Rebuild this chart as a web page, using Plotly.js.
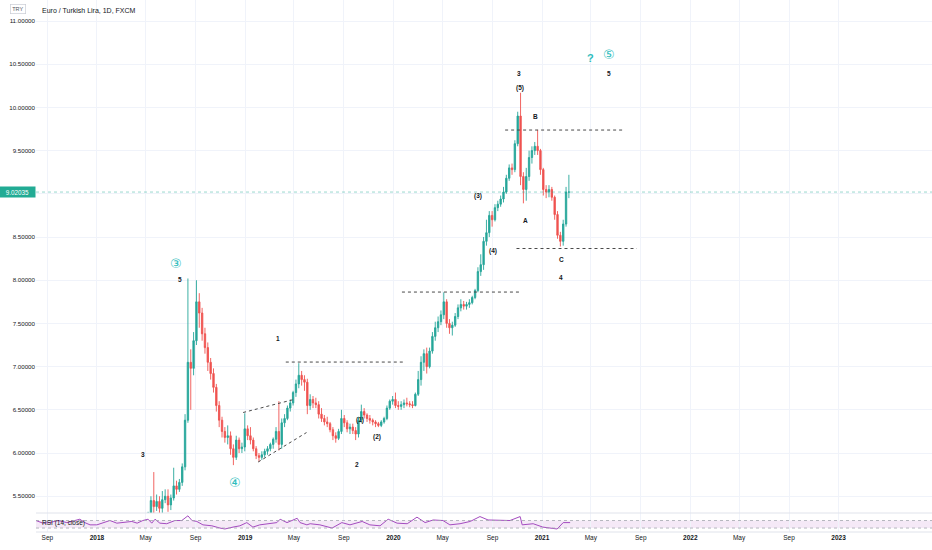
<!DOCTYPE html>
<html><head><meta charset="utf-8">
<script src="https://cdn.plot.ly/plotly-3.0.1.min.js"></script>
<style>html,body{margin:0;padding:0;background:#fff;overflow:hidden}#chart{width:932px;height:550px}</style>
</head><body><div id="chart"></div>
<script>
// ---- Data (weekly OHLC) ----
const weeks = [
'2018-05-07','2018-05-14','2018-05-21','2018-05-28','2018-06-04','2018-06-11','2018-06-18','2018-06-25','2018-07-02','2018-07-09','2018-07-16','2018-07-23','2018-07-30','2018-08-06','2018-08-13','2018-08-20','2018-08-27','2018-09-03','2018-09-10','2018-09-17','2018-09-24','2018-10-01','2018-10-08','2018-10-15','2018-10-22','2018-10-29','2018-11-05','2018-11-12','2018-11-19','2018-11-26','2018-12-03','2018-12-10','2018-12-17','2018-12-24','2018-12-31',
'2019-01-07','2019-01-14','2019-01-21','2019-01-28','2019-02-04','2019-02-11','2019-02-18','2019-02-25','2019-03-04','2019-03-11','2019-03-18','2019-03-25','2019-04-01','2019-04-08','2019-04-15','2019-04-22','2019-04-29','2019-05-06','2019-05-13','2019-05-20','2019-05-27','2019-06-03','2019-06-10','2019-06-17','2019-06-24','2019-07-01','2019-07-08','2019-07-15','2019-07-22','2019-07-29','2019-08-05','2019-08-12','2019-08-19','2019-08-26','2019-09-02','2019-09-09','2019-09-16','2019-09-23','2019-09-30','2019-10-07','2019-10-14','2019-10-21','2019-10-28','2019-11-04','2019-11-11','2019-11-18','2019-11-25','2019-12-02','2019-12-09','2019-12-16','2019-12-23','2019-12-30',
'2020-01-06','2020-01-13','2020-01-20','2020-01-27','2020-02-03','2020-02-10','2020-02-17','2020-02-24','2020-03-02','2020-03-09','2020-03-16','2020-03-23','2020-03-30','2020-04-06','2020-04-13','2020-04-20','2020-04-27','2020-05-04','2020-05-11','2020-05-18','2020-05-25','2020-06-01','2020-06-08','2020-06-15','2020-06-22','2020-06-29','2020-07-06','2020-07-13','2020-07-20','2020-07-27','2020-08-03','2020-08-10','2020-08-17','2020-08-24','2020-08-31','2020-09-07','2020-09-14','2020-09-21','2020-09-28','2020-10-05','2020-10-12','2020-10-19','2020-10-26','2020-11-02','2020-11-09','2020-11-16','2020-11-23','2020-11-30','2020-12-07','2020-12-14','2020-12-21','2020-12-28',
'2021-01-04','2021-01-11','2021-01-18','2021-01-25','2021-02-01','2021-02-08','2021-02-15','2021-02-22','2021-03-01','2021-03-08'
];
const openP = [
5.00,5.28,5.45,5.38,5.44,5.36,5.46,5.50,5.40,5.48,5.62,5.58,5.66,5.84,6.38,7.05,6.98,7.30,7.75,7.62,7.38,7.22,7.05,6.92,6.76,6.55,6.38,6.25,6.18,6.20,6.05,5.95,6.15,6.05,6.07,
6.28,6.20,6.15,6.05,5.97,5.95,5.98,6.02,6.05,6.10,6.16,6.25,6.10,6.35,6.40,6.52,6.58,6.70,6.80,6.90,6.85,6.82,6.55,6.62,6.58,6.56,6.45,6.40,6.36,6.34,6.27,6.20,6.17,6.25,6.40,6.35,6.28,6.30,6.26,6.22,6.38,6.48,6.44,6.40,6.38,6.36,6.34,6.32,6.36,6.40,6.52,6.60,
6.62,6.55,6.54,6.56,6.58,6.57,6.56,6.55,6.68,6.85,7.05,7.15,7.00,7.18,7.35,7.45,7.52,7.60,7.75,7.50,7.45,7.48,7.58,7.68,7.72,7.70,7.72,7.74,7.80,7.88,8.10,8.18,8.45,8.55,8.75,8.70,8.84,8.88,8.94,9.02,9.18,9.30,9.28,9.58,9.90,9.20,9.05,9.20,9.42,9.50,9.55,9.50,
9.28,9.05,9.02,9.05,8.96,8.76,8.52,8.45,8.65,9.02
];
const highP = [
5.32,5.50,5.78,5.52,5.50,5.56,5.58,5.58,5.52,5.83,5.68,5.70,5.88,6.45,8.02,7.20,7.40,8.00,7.85,7.68,7.45,7.28,7.10,6.98,6.80,6.60,6.42,6.30,6.32,6.25,6.10,6.20,6.18,6.12,6.46,
6.32,6.30,6.18,6.08,6.00,6.02,6.05,6.08,6.12,6.18,6.30,6.60,6.40,6.45,6.55,6.62,6.72,6.85,7.04,6.95,6.90,6.86,6.68,6.66,6.64,6.60,6.52,6.44,6.42,6.36,6.30,6.24,6.28,6.50,6.44,6.38,6.34,6.34,6.30,6.42,6.56,6.52,6.46,6.44,6.40,6.38,6.36,6.38,6.42,6.55,6.62,6.66,
6.70,6.60,6.60,6.62,6.64,6.60,6.60,6.70,6.95,7.12,7.20,7.22,7.22,7.40,7.52,7.58,7.65,7.86,7.78,7.55,7.52,7.62,7.72,7.78,7.76,7.75,7.78,7.82,7.90,8.15,8.30,8.50,8.70,8.80,8.80,8.88,8.92,8.98,9.08,9.22,9.34,9.35,9.62,9.95,10.17,9.25,9.30,9.50,9.55,9.60,9.74,9.52,
9.30,9.10,9.10,9.08,8.98,8.80,8.56,8.70,9.08,9.22
];
const lowP = [
4.98,5.27,5.30,5.33,5.24,5.30,5.42,5.32,5.34,5.45,5.52,5.55,5.62,5.80,6.35,6.50,6.90,7.25,7.45,7.30,7.15,6.95,6.85,6.70,6.48,6.30,6.18,6.12,6.10,5.98,5.86,5.92,6.00,6.00,6.02,
6.15,6.10,6.02,5.93,5.90,5.92,5.95,5.98,6.02,6.05,6.12,6.03,6.05,6.30,6.38,6.48,6.55,6.65,6.75,6.78,6.72,6.45,6.50,6.52,6.52,6.40,6.36,6.32,6.30,6.24,6.15,6.12,6.15,6.22,6.30,6.24,6.22,6.22,6.15,6.18,6.35,6.40,6.36,6.34,6.32,6.30,6.30,6.30,6.34,6.38,6.50,6.56,
6.52,6.50,6.50,6.52,6.54,6.53,6.52,6.54,6.66,6.78,6.95,6.92,6.98,7.15,7.30,7.40,7.48,7.55,7.45,7.38,7.36,7.46,7.55,7.64,7.66,7.66,7.68,7.72,7.78,7.86,8.05,8.12,8.40,8.50,8.62,8.68,8.80,8.85,8.90,9.00,9.15,9.22,9.25,9.55,9.10,8.89,8.92,9.15,9.35,9.45,9.45,9.22,
8.98,8.95,8.96,8.92,8.70,8.48,8.39,8.40,8.62,8.95
];
const closeP = [
5.28,5.45,5.38,5.44,5.36,5.46,5.50,5.40,5.48,5.62,5.58,5.66,5.84,6.38,7.05,6.98,7.30,7.75,7.62,7.38,7.22,7.05,6.92,6.76,6.55,6.38,6.25,6.18,6.20,6.05,5.95,6.15,6.05,6.07,6.28,
6.20,6.15,6.05,5.97,5.95,5.98,6.02,6.05,6.10,6.16,6.25,6.10,6.35,6.40,6.52,6.58,6.70,6.80,6.90,6.85,6.82,6.55,6.62,6.58,6.56,6.45,6.40,6.36,6.34,6.27,6.20,6.17,6.25,6.40,6.35,6.28,6.30,6.26,6.22,6.38,6.48,6.44,6.40,6.38,6.36,6.34,6.32,6.36,6.40,6.52,6.60,6.62,
6.55,6.54,6.56,6.58,6.57,6.56,6.55,6.68,6.85,7.05,7.15,7.00,7.18,7.35,7.45,7.52,7.60,7.75,7.50,7.45,7.48,7.58,7.68,7.72,7.70,7.72,7.74,7.80,7.88,8.10,8.18,8.45,8.55,8.75,8.70,8.84,8.88,8.94,9.02,9.18,9.30,9.28,9.58,9.90,9.20,9.05,9.20,9.42,9.50,9.55,9.50,9.28,
9.05,9.02,9.05,8.96,8.76,8.52,8.45,8.65,9.02,9.02035
];

// RSI(14, close) line
const rsiDates = ['2017-08-04','2017-08-21','2017-09-07','2017-09-27','2017-10-19','2017-11-08','2017-11-20','2017-12-02','2017-12-15','2018-01-01','2018-01-16','2018-02-02','2018-02-19','2018-03-06','2018-03-28','2018-04-10','2018-04-24','2018-05-07','2018-05-16','2018-05-24','2018-06-05','2018-06-22','2018-07-12','2018-07-29','2018-08-13','2018-08-23','2018-09-04','2018-09-19','2018-10-11','2018-10-31','2018-11-12','2018-12-02','2018-12-19','2019-01-05','2019-01-20','2019-02-06','2019-02-24','2019-03-20','2019-03-28','2019-04-14','2019-05-09','2019-05-16','2019-06-02','2019-06-10','2019-07-04','2019-08-03','2019-08-27','2019-09-16','2019-10-16','2019-11-04','2019-11-29','2019-12-19','2020-01-10','2020-02-04','2020-02-28','2020-03-19','2020-04-08','2020-05-02','2020-05-19','2020-06-13','2020-07-08','2020-08-01','2020-08-21','2020-09-20','2020-10-14','2020-11-08','2020-11-13','2020-12-10','2021-01-03','2021-02-07','2021-02-22','2021-03-11'];
const rsiValues = [70,56,59,70,59,70,77,59,47,47,59,70,56,59,65,56,70,77,56,77,56,53,70,70,95,70,65,47,42,30,25,35,42,59,35,47,53,59,77,59,82,59,47,53,47,30,59,47,65,47,42,77,56,53,88,59,73,70,47,53,65,91,73,70,70,91,47,53,35,25,59,59];

const tickDates = ['2017-09-01','2018-01-01','2018-05-01','2018-09-01','2019-01-01','2019-05-01','2019-09-01','2020-01-01','2020-05-01','2020-09-01','2021-01-01','2021-05-01','2021-09-01','2022-01-01','2022-05-01','2022-09-01','2023-01-01'];
const tickLabels = ['Sep','<b>2018</b>','May','Sep','<b>2019</b>','May','Sep','<b>2020</b>','May','Sep','<b>2021</b>','May','Sep','<b>2022</b>','May','Sep','<b>2023</b>'];
const priceTicks = [5.5,6.0,6.5,7.0,7.5,8.0,8.5,9.0,9.5,10.0,10.5,11.0];

// ---- Styles ----
const UP = '#26a69a', DOWN = '#ef5350', WAVE = '#2ebdbd', INK = '#131722', GRID = '#f0f3fa';
const FONT = 'Liberation Sans, Arial, sans-serif';
const lastClose = closeP[closeP.length - 1];
// the last-price badge covers the nearest price tick label, as in the reference
const priceTickText = priceTicks.map(v => Math.abs(v - lastClose) < 0.1 ? '' : v.toFixed(5));

const candles = {
  type: 'candlestick', x: weeks, open: openP, high: highP, low: lowP, close: closeP,
  xaxis: 'x', yaxis: 'y', hoverinfo: 'skip',
  increasing: {line: {color: UP, width: 0.9}, fillcolor: UP},
  decreasing: {line: {color: DOWN, width: 0.9}, fillcolor: DOWN},
  whiskerwidth: 0
};
const rsi = {
  type: 'scatter', mode: 'lines', x: rsiDates, y: rsiValues, xaxis: 'x', yaxis: 'y2',
  line: {color: '#a44cc0', width: 1}, hoverinfo: 'skip'
};

function lab(text, x, y, size, color, family) {
  return {text: text, x: x, y: y, xref: 'x', yref: 'y', showarrow: false,
          font: {family: family || FONT, size: size || 6.5, color: color || INK}};
}
const CIRC = 'DejaVu Sans, sans-serif';
const annotations = [
  {text: 'Euro / Turkish Lira, 1D, FXCM', xref: 'paper', yref: 'paper', x: 0.0045, y: 0.981,
   xanchor: 'left', yanchor: 'middle', showarrow: false, font: {family: FONT, size: 7, color: INK}},
  {text: 'TRY', xref: 'paper', yref: 'paper', x: -0.0201, y: 0.983, xanchor: 'center', yanchor: 'middle',
   showarrow: false, bordercolor: '#c9ccd4', borderwidth: 0.7, borderpad: 1.5,
   font: {family: FONT, size: 5.5, color: '#50535e'}},
  {text: 'RSI (14, close)', xref: 'paper', yref: 'paper', x: 0.0045, y: 0.0169, xanchor: 'left',
   yanchor: 'middle', showarrow: false, font: {family: FONT, size: 6.5, color: INK}},
  {text: lastClose.toFixed(5), xref: 'paper', yref: 'y', x: 0, y: lastClose, xanchor: 'right',
   yanchor: 'middle', showarrow: false, bgcolor: '#22ab94', width: 32, borderpad: 1.5,
   font: {family: FONT, size: 6.3, color: '#ffffff'}},
  lab('<b>3</b>', '2018-04-24', 5.98),
  lab('<b>5</b>', '2018-07-24', 8.01),
  lab('\u2462', '2018-07-14', 8.19, 13, WAVE, CIRC),
  lab('\u2463', '2018-12-06', 5.66, 13, WAVE, CIRC),
  lab('<b>1</b>', '2019-03-22', 7.33),
  lab('<b>(1)</b>', '2019-10-10', 6.38),
  lab('<b>(2)</b>', '2019-11-21', 6.185),
  lab('<b>2</b>', '2019-10-03', 5.873),
  lab('<b>(3)</b>', '2020-07-27', 8.975),
  lab('<b>(4)</b>', '2020-09-02', 8.338),
  lab('<b>3</b>', '2020-11-05', 10.387),
  lab('<b>(5)</b>', '2020-11-07', 10.225),
  lab('<b>B</b>', '2020-12-15', 9.90),
  lab('<b>A</b>', '2020-11-20', 8.697),
  lab('<b>C</b>', '2021-02-19', 8.245),
  lab('<b>4</b>', '2021-02-16', 8.037),
  lab('<b>?</b>', '2021-04-29', 10.57, 11, WAVE),
  lab('\u2464', '2021-06-15', 10.607, 13, WAVE, CIRC),
  lab('<b>5</b>', '2021-06-15', 10.387)
];

function dashed(x0, y0, x1, y1) {
  return {type: 'line', xref: 'x', yref: 'y', x0: x0, y0: y0, x1: x1, y1: y1,
          line: {color: '#4a4a4a', width: 1, dash: '3px,3px'}};
}
const shapes = [
  {type: 'rect', xref: 'paper', yref: 'y2', x0: 0, x1: 1, y0: 30, y1: 70, fillcolor: 'rgba(156,39,176,0.10)', line: {width: 0}, layer: 'below'},
  {type: 'line', xref: 'paper', yref: 'y2', x0: 0, x1: 1, y0: 70, y1: 70, line: {color: '#a3a6af', width: 0.8, dash: '3px,3px'}},
  {type: 'line', xref: 'paper', yref: 'y2', x0: 0, x1: 1, y0: 30, y1: 30, line: {color: '#a3a6af', width: 0.8, dash: '3px,3px'}},
  {type: 'line', xref: 'paper', yref: 'paper', x0: 0, x1: 1, y0: 0.0357, y1: 0.0357, line: {color: '#e0e3eb', width: 1}},
  {type: 'line', xref: 'paper', yref: 'paper', x0: 0, x1: 1, y0: 0, y1: 0, line: {color: '#e0e3eb', width: 1}},
  {type: 'line', xref: 'paper', yref: 'y', x0: 0, x1: 1, y0: lastClose, y1: lastClose, line: {color: 'rgba(34,171,148,0.45)', width: 1, dash: 'dot'}},
  dashed('2020-10-02', 9.738, '2021-07-19', 9.738),
  dashed('2020-10-30', 8.367, '2021-08-22', 8.367),
  dashed('2020-01-22', 7.863, '2020-11-10', 7.863),
  dashed('2019-04-11', 7.053, '2020-01-29', 7.053),
  dashed('2018-12-27', 6.469, '2019-05-01', 6.62),
  dashed('2019-02-02', 5.896, '2019-06-01', 6.237)
];

const layout = {
  width: 932, height: 550, margin: {l: 36, r: 0, t: 0, b: 18},
  paper_bgcolor: '#ffffff', plot_bgcolor: '#ffffff', showlegend: false,
  font: {family: FONT, color: INK},
  xaxis: {type: 'date', range: ['2017-08-04', '2023-08-19'], anchor: 'y2', rangeslider: {visible: false},
          tickmode: 'array', tickvals: tickDates, ticktext: tickLabels, ticks: '',
          showgrid: true, gridcolor: GRID, gridwidth: 1, showline: false, zeroline: false,
          tickfont: {family: FONT, size: 6.5, color: INK}, fixedrange: true},
  yaxis: {domain: [0.0357, 1], range: [5.306, 11.243], side: 'left', tickmode: 'array',
          tickvals: priceTicks, ticktext: priceTickText, ticks: '', showgrid: true, gridcolor: GRID,
          zeroline: false, showline: false, tickfont: {family: FONT, size: 6.2, color: INK}, fixedrange: true},
  yaxis2: {domain: [0, 0.0357], range: [9, 110], showticklabels: false, showgrid: false,
           zeroline: false, showline: false, ticks: '', fixedrange: true},
  annotations: annotations, shapes: shapes
};

Plotly.newPlot('chart', [candles, rsi], layout, {displayModeBar: false, staticPlot: true});
</script></body></html>
